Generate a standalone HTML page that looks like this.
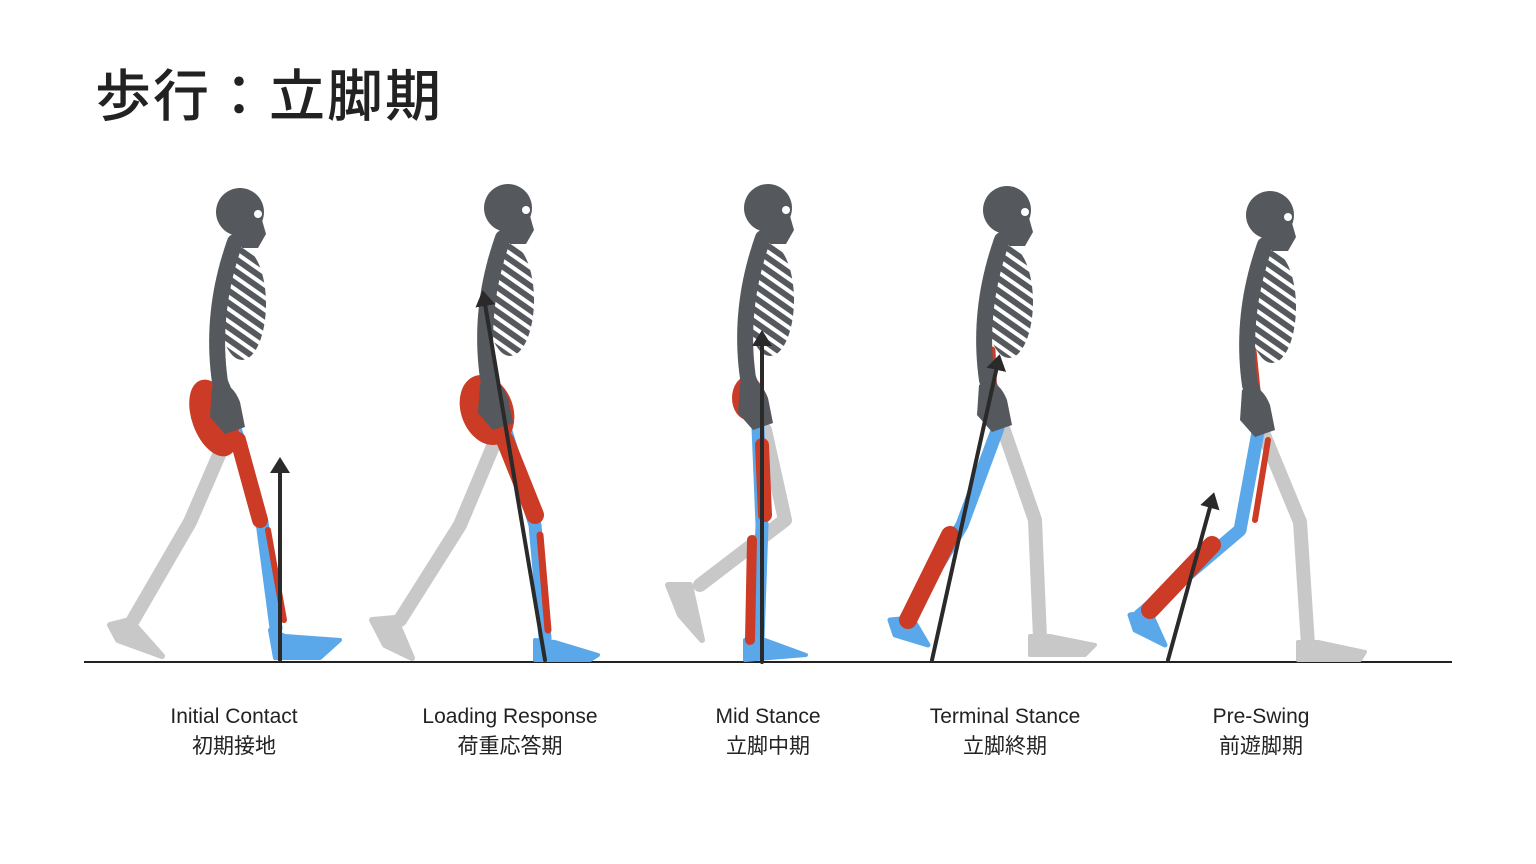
<!DOCTYPE html>
<html><head><meta charset="utf-8"><style>
html,body{margin:0;padding:0;background:#fff;}
body{width:1536px;height:864px;position:relative;overflow:hidden;font-family:"Liberation Sans","Noto Sans CJK JP",sans-serif;}
.t{position:absolute;left:95px;top:52px;font-size:56px;color:#222;font-family:"Noto Sans CJK JP",sans-serif;letter-spacing:2px;font-weight:500;}
.l{position:absolute;top:702px;width:240px;text-align:center;font-size:21px;line-height:30px;color:#222;font-family:"Liberation Sans","Noto Sans CJK JP",sans-serif;}
svg{position:absolute;left:0;top:0;}
</style></head><body>
<div class="t">歩行：立脚期</div>
<svg width="1536" height="864" viewBox="0 0 1536 864">
<defs>
<pattern id="rib" width="10" height="10" patternUnits="userSpaceOnUse" patternTransform="rotate(35)">
<rect width="10" height="10" fill="#55585d"/><rect y="4" width="10" height="4" fill="#fff"/></pattern>
<marker id="ah" markerWidth="4" markerHeight="5" refX="2" refY="2.5" orient="auto"><path d="M0,0 L4,2.5 L0,5 z" fill="#2a2a2a"/></marker>
<g id="up">
<circle cx="0" cy="0" r="24" fill="#55585d"/>
<path d="M-5,10 L22,8 L26,22 L18,36 L2,36 Z" fill="#55585d"/>
<circle cx="18" cy="2" r="4" fill="#fff"/>
<ellipse cx="2" cy="92" rx="24" ry="56" fill="url(#rib)"/>
<path d="M-5,30 Q-30,100 -20,170 L-10,195" stroke="#55585d" stroke-width="16" fill="none" stroke-dasharray="5 2"/>
<path d="M-28,175 Q-10,165 0,190 L5,215 L-15,222 L-30,205 Z" fill="#55585d"/>
</g>
</defs>
<line x1="84" y1="662" x2="1452" y2="662" stroke="#222" stroke-width="2"/>
<g fill="none" stroke-linecap="round" stroke-linejoin="round">
<!-- fig1 -->
<polyline points="232,425 190,522 132,622" stroke="#c8c8c8" stroke-width="14"/>
<path d="M110,625 L130,620 L162,656 L118,640 Z" fill="#c8c8c8" stroke="#c8c8c8" stroke-width="6"/>
<polyline points="235,428 262,522 276,628" stroke="#5aa8ea" stroke-width="13"/>
<path d="M270,630 L285,636 L340,640 L320,658 L275,658 Z" fill="#5aa8ea" stroke="#5aa8ea" stroke-width="4"/>
<polyline points="238,440 260,520" stroke="#cc3b26" stroke-width="16"/>
<polyline points="268,530 284,620" stroke="#cc3b26" stroke-width="6"/>
<ellipse cx="214" cy="418" rx="22" ry="40" fill="#cc3b26" transform="rotate(-20 214 418)"/>
<use href="#up" x="240" y="212"/>
<line x1="280" y1="660" x2="280" y2="465" stroke="#2a2a2a" stroke-width="4" marker-end="url(#ah)"/>
<!-- fig2 -->
<polyline points="502,425 460,525 400,620" stroke="#c8c8c8" stroke-width="14"/>
<path d="M372,620 L395,618 L412,658 L385,645 Z" fill="#c8c8c8" stroke="#c8c8c8" stroke-width="6"/>
<polyline points="505,428 535,525 545,638" stroke="#5aa8ea" stroke-width="13"/>
<path d="M535,640 L555,642 L598,655 L590,660 L535,660 Z" fill="#5aa8ea" stroke="#5aa8ea" stroke-width="4"/>
<polyline points="505,440 535,515" stroke="#cc3b26" stroke-width="18"/>
<polyline points="540,535 548,630" stroke="#cc3b26" stroke-width="7"/>
<ellipse cx="487" cy="410" rx="26" ry="36" fill="#cc3b26" transform="rotate(-20 487 410)"/>
<use href="#up" x="508" y="208"/>
<line x1="545" y1="660" x2="484" y2="298" stroke="#2a2a2a" stroke-width="4" marker-end="url(#ah)"/>
<!-- fig3 -->
<polyline points="765,430 785,520 700,585" stroke="#c8c8c8" stroke-width="14"/>
<path d="M668,585 L690,585 L702,640 L680,615 Z" fill="#c8c8c8" stroke="#c8c8c8" stroke-width="6"/>
<polyline points="758,428 762,525 758,640" stroke="#5aa8ea" stroke-width="13"/>
<path d="M745,640 L765,640 L806,655 L745,660 Z" fill="#5aa8ea" stroke="#5aa8ea" stroke-width="4"/>
<polyline points="762,445 765,515" stroke="#cc3b26" stroke-width="14"/>
<polyline points="752,540 750,640" stroke="#cc3b26" stroke-width="10"/>
<ellipse cx="748" cy="398" rx="16" ry="22" fill="#cc3b26"/>
<use href="#up" x="768" y="208"/>
<line x1="762" y1="662" x2="762" y2="338" stroke="#2a2a2a" stroke-width="4" marker-end="url(#ah)"/>
<!-- fig4 -->
<polyline points="1002,425 1035,520 1040,638" stroke="#c8c8c8" stroke-width="14"/>
<path d="M1030,636 L1050,636 L1095,645 L1085,655 L1030,655 Z" fill="#c8c8c8" stroke="#c8c8c8" stroke-width="4"/>
<polyline points="998,428 962,525 905,620" stroke="#5aa8ea" stroke-width="13"/>
<path d="M890,620 L912,618 L928,645 L895,635 Z" fill="#5aa8ea" stroke="#5aa8ea" stroke-width="5"/>
<polyline points="950,535 908,620" stroke="#cc3b26" stroke-width="18"/>
<polyline points="992,350 994,400" stroke="#cc3b26" stroke-width="7"/>
<use href="#up" x="1007" y="210"/>
<line x1="932" y1="660" x2="998" y2="362" stroke="#2a2a2a" stroke-width="4" marker-end="url(#ah)"/>
<!-- fig5 -->
<polyline points="1262,430 1300,522 1308,645" stroke="#c8c8c8" stroke-width="14"/>
<path d="M1298,642 L1318,642 L1365,652 L1360,660 L1298,660 Z" fill="#c8c8c8" stroke="#c8c8c8" stroke-width="4"/>
<polyline points="1258,432 1240,530 1140,615" stroke="#5aa8ea" stroke-width="13"/>
<path d="M1130,615 L1150,612 L1165,645 L1135,630 Z" fill="#5aa8ea" stroke="#5aa8ea" stroke-width="5"/>
<polyline points="1212,545 1150,610" stroke="#cc3b26" stroke-width="18"/>
<polyline points="1268,440 1255,520" stroke="#cc3b26" stroke-width="6"/>
<polyline points="1253,350 1258,400" stroke="#cc3b26" stroke-width="7"/>
<use href="#up" x="1270" y="215"/>
<line x1="1168" y1="660" x2="1212" y2="500" stroke="#2a2a2a" stroke-width="4" marker-end="url(#ah)"/>
</g>
</svg>
<div class="l" style="left:114px">Initial Contact<br>初期接地</div>
<div class="l" style="left:390px">Loading Response<br>荷重応答期</div>
<div class="l" style="left:648px">Mid Stance<br>立脚中期</div>
<div class="l" style="left:885px">Terminal Stance<br>立脚終期</div>
<div class="l" style="left:1141px">Pre-Swing<br>前遊脚期</div>
</body></html>
